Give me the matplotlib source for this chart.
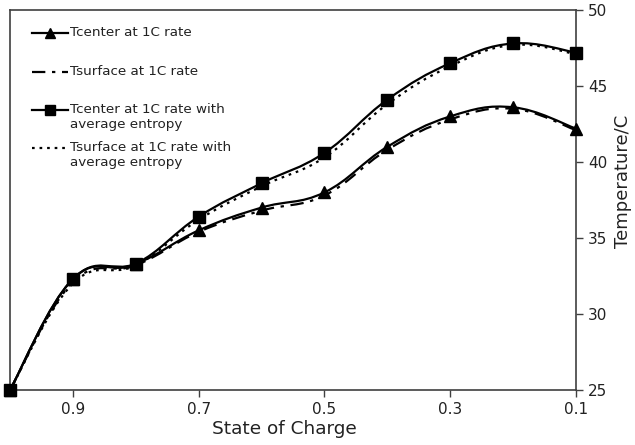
import numpy as np
import matplotlib
matplotlib.use('Agg')
import matplotlib.pyplot as plt
from matplotlib.path import Path
from matplotlib.patches import PathPatch
from matplotlib.lines import Line2D

soc = [1.0, 0.9, 0.8, 0.7, 0.6, 0.5, 0.4, 0.3, 0.2, 0.1]
tcenter = [25.0, 32.3, 33.3, 35.5, 37.0, 38.0, 41.0, 43.0, 43.6, 42.2]
tsurface = [25.0, 32.1, 33.2, 35.4, 36.8, 37.8, 40.8, 42.8, 43.5, 42.1]
tcenter_avg = [25.0, 32.3, 33.3, 36.4, 38.6, 40.6, 44.1, 46.5, 47.8, 47.2]
tsurface_avg = [25.0, 32.0, 33.2, 36.2, 38.4, 40.3, 43.8, 46.3, 47.7, 47.1]

labels = ['Tcenter at 1C rate', 'Tsurface at 1C rate',
          'Tcenter at 1C rate with\naverage entropy',
          'Tsurface at 1C rate with\naverage entropy']
styles = ['-', (0, (6, 3, 1.5, 3)), '-', (0, (1.2, 2.2))]
markers = ['^', None, 's', None]


def smooth_path(xs, ys, k=1 / 5):
    # excel-style smoothed line: cubic bezier through each point
    pts = np.column_stack([xs, ys])
    n = len(pts)
    verts = [pts[0]]
    codes = [Path.MOVETO]
    for i in range(n - 1):
        p0 = pts[i - 1] if i > 0 else pts[i]
        p1 = pts[i]
        p2 = pts[i + 1]
        p3 = pts[i + 2] if i + 2 < n else pts[i + 1]
        verts += [p1 + (p2 - p0) * k, p2 - (p3 - p1) * k, p2]
        codes += [Path.CURVE4] * 3
    return Path(verts, codes)


fig = plt.figure(figsize=(6.35, 4.45), dpi=100)
ax = fig.add_axes([0.0157, 0.1236, 0.8913, 0.8539])

series = [tcenter, tsurface, tcenter_avg, tsurface_avg]
for ys, ls, mk in zip(series, styles, markers):
    ax.add_patch(PathPatch(smooth_path(soc, ys), fill=False, lw=1.6,
                           linestyle=ls, edgecolor='black', zorder=2))
    if mk:
        ax.plot(soc, ys, linestyle='none', marker=mk, markersize=9,
                color='black', zorder=3, clip_on=False)

ax.set_xlim(1.0, 0.1)
ax.set_ylim(25, 50)
ax.set_xticks([0.9, 0.7, 0.5, 0.3, 0.1])
ax.set_xticklabels(['0.9', '0.7', '0.5', '0.3', '0.1'])
ax.set_yticks([25, 30, 35, 40, 45, 50])
ax.yaxis.tick_right()
ax.yaxis.set_label_position('right')
ax.tick_params(axis='both', labelsize=11, length=5, width=1, color='#404040',
               labelcolor='#222222')
ax.set_xlabel('State of Charge', fontsize=13.3, color='#222222')
ax.set_ylabel('Temperature/C', fontsize=13, color='#222222')
ax.xaxis.set_label_coords(0.485, -0.078)
ax.yaxis.set_label_coords(1.068, 0.55)
for s in ax.spines.values():
    s.set_color('#404040')
    s.set_linewidth(1.2)

# legend drawn by hand so handles align with the first text line
ypos = [0.939, 0.837, 0.737, 0.637]
for y, lab, ls, mk in zip(ypos, labels, styles, markers):
    ax.add_line(Line2D([0.039, 0.102], [y, y], transform=ax.transAxes,
                       color='black', lw=1.6, linestyle=ls))
    if mk:
        ax.add_line(Line2D([0.0705], [y], transform=ax.transAxes,
                           color='black', marker=mk, markersize=7))
    ax.text(0.106, y + 0.019, lab, transform=ax.transAxes, fontsize=9.7,
            va='top', ha='left', linespacing=1.2, color='#222222')

plt.savefig('out.png', dpi=100)
